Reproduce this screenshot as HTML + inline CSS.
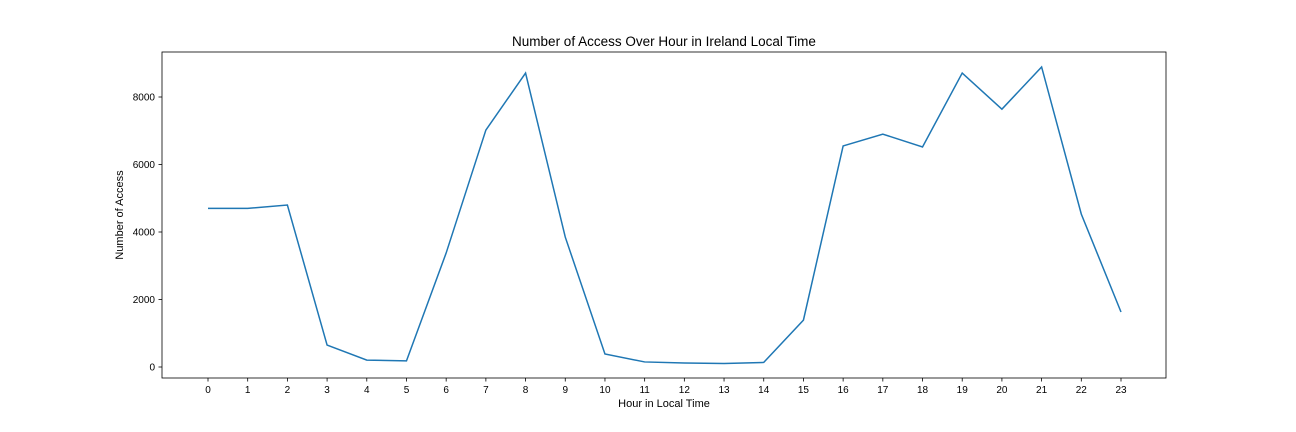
<!DOCTYPE html>
<html><head><meta charset="utf-8"><style>
body{margin:0;background:#fff;}
svg{display:block;font-family:"Liberation Sans","DejaVu Sans",sans-serif;}
</style></head><body>
<svg id="chart" width="1296" height="432">
<text x="664" y="46" text-anchor="middle" font-size="13.5">Number of Access Over Hour in Ireland Local Time</text>
<rect x="162" y="52" width="1004" height="326" fill="none" stroke="#000" stroke-width="0.8"/>
<g id="xt"></g><g id="yt"></g>
<text x="664" y="407" text-anchor="middle" font-size="11">Hour in Local Time</text>
<text transform="translate(123,215) rotate(-90)" text-anchor="middle" font-size="11">Number of Access</text>
<path id="line" fill="none" stroke="#1f77b4" stroke-width="1.5"/>
</svg>
<script>
const hours=[0,1,2,3,4,5,6,7,8,9,10,11,12,13,14,15,16,17,18,19,20,21,22,23];
const access=[4700,4700,4800,650,205,180,3380,7020,8710,3850,385,150,120,105,135,1390,6550,6900,6520,8710,7640,8890,4530,1630];
const yTicks=[0,2000,4000,6000,8000];
const ns="http://www.w3.org/2000/svg";
const X=h=>208+h*(1121-208)/23;
const Y=v=>367-v*(367-97)/8000;
const xt=document.getElementById('xt'),yt=document.getElementById('yt');
hours.forEach(h=>{
 const l=document.createElementNS(ns,'line');
 l.setAttribute('x1',X(h));l.setAttribute('x2',X(h));l.setAttribute('y1',378);l.setAttribute('y2',381.5);l.setAttribute('stroke','#000');l.setAttribute('stroke-width','0.8');
 
 
 xt.appendChild(l);
 const t=document.createElementNS(ns,'text');
 t.setAttribute('x',X(h));t.setAttribute('y',393);t.setAttribute('text-anchor','middle');t.setAttribute('font-size','10');t.textContent=h;
 
 
 xt.appendChild(t);
});
yTicks.forEach(v=>{
 const l=document.createElementNS(ns,'line');
 l.setAttribute('x1',158.5);l.setAttribute('x2',162);l.setAttribute('y1',Y(v));l.setAttribute('y2',Y(v));l.setAttribute('stroke','#000');l.setAttribute('stroke-width','0.8');
 
 
 yt.appendChild(l);
 const t=document.createElementNS(ns,'text');
 t.setAttribute('x',155);t.setAttribute('y',Y(v)+3.5);t.setAttribute('text-anchor','end');t.setAttribute('font-size','10');t.textContent=v;
 
 
 yt.appendChild(t);
});
document.getElementById('line').setAttribute('d',hours.map((h,i)=>(i?'L':'M')+X(h)+','+Y(access[i])).join(' '));
</script>
</body></html>
